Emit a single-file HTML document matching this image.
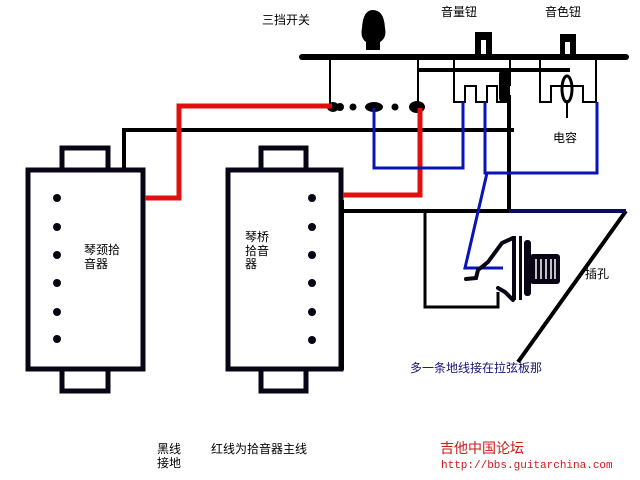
<!DOCTYPE html>
<html><head><meta charset="utf-8"><style>
html,body{margin:0;padding:0;background:#fff;}
svg{display:block}
text{font-family:"Liberation Sans","Noto Sans CJK SC",sans-serif;font-size:12px;fill:#000}
</style></head><body>
<svg width="640" height="480" viewBox="0 0 640 480" xmlns="http://www.w3.org/2000/svg">
<rect width="640" height="480" fill="#fff"/>
<g fill="none" stroke="#0a0514" stroke-width="5">
<!-- neck pickup -->
<rect x="28" y="170" width="115" height="199"/>
<rect x="62" y="148" width="46" height="22"/>
<rect x="62" y="369" width="46" height="22"/>
<!-- bridge pickup -->
<rect x="228" y="170" width="113" height="199"/>
<rect x="261" y="148" width="45" height="22"/>
<rect x="261" y="369" width="45" height="22"/>
</g>
<g fill="#0a0514">
<circle cx="57" cy="198" r="4"/><circle cx="57" cy="227" r="4"/><circle cx="57" cy="255" r="4"/><circle cx="57" cy="283" r="4"/><circle cx="57" cy="312" r="4"/><circle cx="57" cy="339" r="4"/>
<circle cx="312" cy="198" r="4"/><circle cx="312" cy="227" r="4"/><circle cx="312" cy="255" r="4"/><circle cx="312" cy="283" r="4"/><circle cx="312" cy="312" r="4"/><circle cx="312" cy="340" r="4"/>
</g>
<!-- black ground wires -->
<g fill="none" stroke="#000" stroke-width="4">
<polyline points="124,168 124,130 514,130"/>
<line x1="302" y1="57" x2="626" y2="57" stroke-width="6" stroke-linecap="round"/>
<line x1="330" y1="57" x2="330" y2="104" stroke-width="2"/>
<line x1="418" y1="57" x2="418" y2="104" stroke-width="2"/>
<line x1="418" y1="70" x2="570" y2="70"/>
<line x1="509" y1="95" x2="509" y2="211"/>
<line x1="342" y1="211" x2="626" y2="211"/>
<line x1="342" y1="200" x2="342" y2="370"/>
<line x1="626" y1="211" x2="518" y2="362"/>
<polyline points="425,213 425,307 498,307 498,292" stroke-width="3"/>
</g>
<!-- pot bodies -->
<g fill="none" stroke="#000" stroke-width="2">
<line x1="454" y1="57" x2="454" y2="86"/><line x1="510" y1="57" x2="510" y2="86"/>
<polyline points="454,86 454,102 465,102 465,86 476,86 476,102 487,102 487,86 497,86 497,102 507,102 507,86"/>
<line x1="540" y1="57" x2="540" y2="86"/><line x1="596" y1="57" x2="596" y2="86"/>
<polyline points="540,86 540,102 551,102 551,86 583,86 583,102 596,102 596,86"/>
</g>
<rect x="475" y="32" width="17" height="24" fill="#000"/><rect x="481" y="40" width="5" height="14" fill="#fff"/>
<rect x="560" y="34" width="16" height="22" fill="#000"/><rect x="565" y="42" width="5" height="12" fill="#fff"/>
<ellipse cx="567" cy="89" rx="5" ry="13" fill="none" stroke="#000" stroke-width="3"/>
<line x1="567" y1="100" x2="567" y2="118" stroke="#000" stroke-width="2"/>
<rect x="499" y="69" width="11" height="34" rx="5" fill="#000"/>
<!-- switch knob -->
<path d="M366,50 L366,42 Q360,38 362,28 Q363,10 373,10 Q384,10 385,28 Q387,38 380,42 L380,50 Z" fill="#000"/>
<!-- lugs -->
<g fill="#000">
<ellipse cx="333" cy="107" rx="6" ry="5"/><circle cx="340" cy="107" r="4"/><circle cx="353" cy="107" r="3.5"/><ellipse cx="374" cy="107" rx="9" ry="5"/><circle cx="395" cy="107" r="3.5"/><ellipse cx="417" cy="107" rx="8" ry="6"/>
</g>
<!-- red wires -->
<g fill="none" stroke="#e01010" stroke-width="5">
<polyline points="145,198 179,198 179,106 332,106"/>
<polyline points="343,195 420,195 420,108"/>
</g>
<!-- blue wires -->
<g fill="none" stroke="#0a14b4" stroke-width="3">
<polyline points="374,108 374,168 463,168 463,102"/>
<polyline points="485,102 485,173 597,173 597,102"/>
<polyline points="487,173 465,268 503,268"/>
<line x1="509" y1="211" x2="626" y2="211" stroke="#0a0a60" stroke-width="4"/>
</g>
<!-- jack -->
<g fill="none" stroke="#0a0514" stroke-width="4" stroke-linecap="round">
<path d="M466,279 L476,278 L478,270 L488,262 L502,243 L513,238"/>
<path d="M498,288 L505,292 L513,300"/>
</g>
<g fill="#0a0514">
<rect x="512" y="236" width="4" height="64"/><rect x="519" y="236" width="3" height="64"/><rect x="524" y="240" width="7" height="56" rx="3"/>
<rect x="530" y="254" width="30" height="30" rx="3"/>
</g>
<g stroke="#fff" stroke-width="1.5"><line x1="536" y1="259" x2="536" y2="279"/><line x1="541" y1="259" x2="541" y2="279"/><line x1="546" y1="259" x2="546" y2="279"/><line x1="551" y1="259" x2="551" y2="279"/><line x1="555" y1="259" x2="555" y2="279"/></g>
<!-- labels -->
<text x="262" y="24">三挡开关</text>
<text x="441" y="16">音量钮</text>
<text x="545" y="16">音色钮</text>
<text x="553" y="142">电容</text>
<text x="585" y="278">插孔</text>
<text x="410" y="372" style="fill:#14147a">多一条地线接在拉弦板那</text>
<text x="84" y="254">琴颈拾</text><text x="84" y="268">音器</text>
<text x="245" y="241">琴桥</text><text x="245" y="255">拾音</text><text x="245" y="268">器</text>
<text x="157" y="453">黑线</text><text x="157" y="467">接地</text>
<text x="211" y="453">红线为拾音器主线</text>
<text x="440" y="453" style="fill:#d01818;font-size:14px">吉他中国论坛</text>
<text x="441" y="468" style="fill:#d01818;font-family:'Liberation Mono',monospace;font-size:11px">http://bbs.guitarchina.com</text>
</svg>
</body></html>
